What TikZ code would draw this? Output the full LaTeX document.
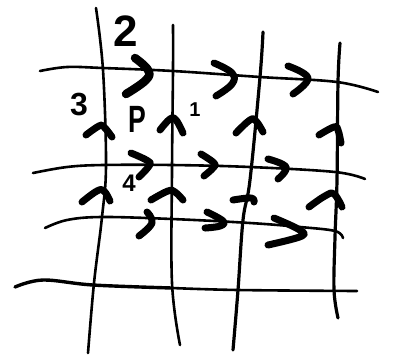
\documentclass[tikz,border=0pt]{standalone}
\usepackage{fontspec}
\setmainfont{Liberation Sans}
\begin{document}
\begin{tikzpicture}[x=1pt,y=-1pt,
  gridline/.style={line width=2.6pt,line cap=round,line join=round},
  chev/.style={line width=7pt,line cap=round,line join=round},
  lbl/.style={font=\bfseries,inner sep=0pt}]
\useasboundingbox (0,0) rectangle (393,360);
% vertical lines
\draw[gridline] plot[smooth,tension=0.6] coordinates {(96,8) (103,70) (106,165) (102,217) (94,283) (88,353)};
\draw[gridline] plot[smooth,tension=0.6] coordinates {(173,25) (173,70) (172,170) (172,283) (180,345)};
\draw[gridline,line width=3.2pt] plot[smooth,tension=0.6] coordinates {(263,32) (260,77) (250,180) (243,220) (238,290) (233,350)};
\draw[gridline,line width=3.2pt] plot[smooth,tension=0.6] coordinates {(340,43) (338,82) (337,180) (335,237) (334,290) (338,318)};
% horizontal lines
\draw[gridline] plot[smooth,tension=0.6] coordinates {(40,71) (67,67) (103,68) (173,71) (260,77) (337,82) (378,92)};
\draw[gridline] plot[smooth,tension=0.6] coordinates {(33,173) (67,167) (103,165) (172,165) (250,167) (335,172) (365,179)};
\draw[gridline] plot[smooth,tension=0.6] coordinates {(45,228) (67,220) (102,217) (172,219) (250,223) (300,227) (335,231) (343,238)};
\draw[gridline,line width=3.4pt] plot[smooth,tension=0.6] coordinates {(15,287) (43,280) (93,285) (172,288)};
\draw[gridline] plot[smooth,tension=0.6] coordinates {(172,288) (238,290) (357,291)};
% right chevrons, row 1
\draw[chev,line width=8.5pt] plot[smooth,tension=0.7] coordinates {(135,58) (148,70) (146,80) (126,94)};
\draw[chev] plot[smooth,tension=0.7] coordinates {(214,63) (232,73) (232,84) (216,96)};
\draw[chev] plot[smooth,tension=0.7] coordinates {(288,66) (308,78) (293,94)};
% row 2
\draw[chev] plot[smooth,tension=0.7] coordinates {(131,153) (148,161) (149,166) (139,177)};
\draw[chev] plot[smooth,tension=0.7] coordinates {(201,154) (214,163) (213,168) (204,176)};
\draw[chev] plot[smooth,tension=0.7] coordinates {(268,159) (286,167) (278,179)};
% row 3
\draw[chev] plot[smooth,tension=0.7] coordinates {(147,212) (152,223) (139,236)};
\draw[chev] plot[smooth,tension=0.7] coordinates {(207,212) (223,221) (220,226) (205,228)};
\draw[chev] plot[smooth,tension=0.6] coordinates {(274,218) (298,229) (302,236) (268,245)};
% up chevrons, row 1
\draw[chev] plot[smooth,tension=0.7] coordinates {(86,135) (99,126) (104,127) (112,137)};
\draw[chev] plot[smooth,tension=0.7] coordinates {(160,130) (170,119) (176,120) (183,133)};
\draw[chev] plot[smooth,tension=0.7] coordinates {(236,133) (250,120) (256,121) (263,132)};
\draw[chev] plot[smooth,tension=0.7] coordinates {(319,135) (334,127) (338,130) (341,143)};
% row 2
\draw[chev] plot[smooth,tension=0.7] coordinates {(82,202) (97,191) (104,191) (110,201)};
\draw[chev] plot[smooth,tension=0.7] coordinates {(151,200) (168,191) (175,192) (183,200)};
\draw[chev] plot[smooth,tension=0.7] coordinates {(233,200) (251,198) (254,202)};
\draw[chev] plot[smooth,tension=0.7] coordinates {(309,207) (325,196) (334,194) (342,207)};
% labels
\node[lbl,font=\bfseries\fontsize{44}{44}\selectfont] (l2) at (126,31) {2};
\node[lbl,font=\bfseries\fontsize{32}{32}\selectfont] (l3) at (79,105) {3};
\node[lbl,font=\bfseries\fontsize{38}{38}\selectfont,xscale=0.7] (lp) at (137,119) {P};
\node[lbl,font=\bfseries\fontsize{20}{20}\selectfont] (l1) at (195,110) {1};
\node[lbl,font=\bfseries\fontsize{24}{24}\selectfont] (l4) at (129,183) {4};
\end{tikzpicture}
\end{document}
